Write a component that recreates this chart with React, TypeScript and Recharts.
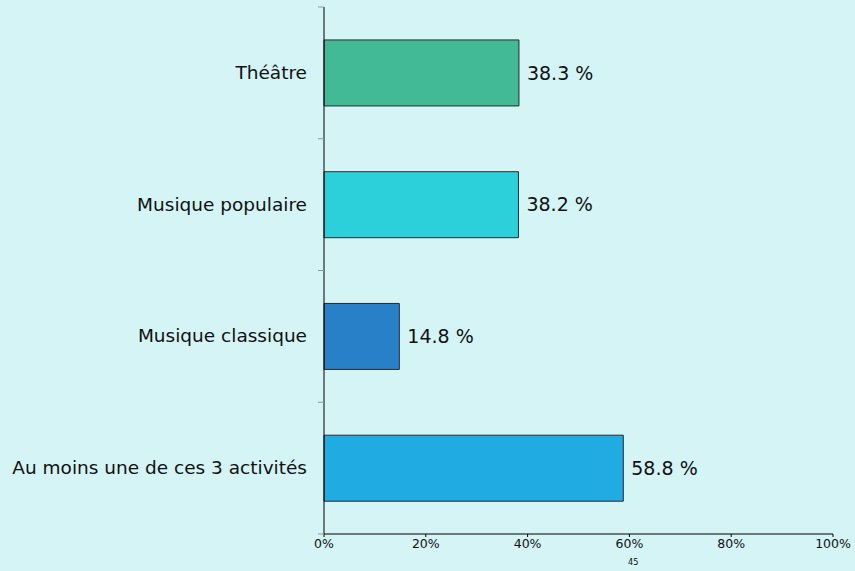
import { BarChart, Bar, XAxis, YAxis, Cell, LabelList } from 'recharts';

const CATEGORIES = ['Théâtre', 'Musique populaire', 'Musique classique', 'Au moins une de ces 3 activités'];
const VALUES = [38.3, 38.2, 14.8, 58.8];
const COLORS = ['#43BA96', '#2BD0DA', '#2881C8', '#20ACE2'];
const X_TICKS = [0, 20, 40, 60, 80, 100];

const data = CATEGORIES.map((name, i) => ({ name, value: VALUES[i], color: COLORS[i] }));

const FONT = '"DejaVu Sans", sans-serif';
const PLOT_TOP = 7;
const PLOT_BOTTOM = 534;
const AXIS_X = 324;

const CategoryTick = (props: any) => {
  const { y, payload, index } = props;
  const band = (PLOT_BOTTOM - PLOT_TOP) / CATEGORIES.length;
  return (
    <g>
      <line x1={AXIS_X - 6} x2={AXIS_X} y1={y - band / 2} y2={y - band / 2} stroke="#8a9a9c" />
      {index === CATEGORIES.length - 1 && (
        <line x1={AXIS_X - 6} x2={AXIS_X} y1={y + band / 2} y2={y + band / 2} stroke="#8a9a9c" />
      )}
      <text x={AXIS_X - 17} y={y} dy={6} textAnchor="end" fill="#111" fontSize={18.5} fontFamily={FONT}>
        {payload.value}
      </text>
    </g>
  );
};

const App = () => {
  return (
    <div style={{ position: 'absolute', left: 0, top: 0, width: 855, height: 571, background: '#D4F4F6' }}>
      <BarChart
        width={855}
        height={571}
        data={data}
        layout="vertical"
        margin={{ top: PLOT_TOP, right: 22, bottom: 7, left: 0 }}
        barCategoryGap="25%"
      >
        <XAxis
          type="number"
          domain={[0, 100]}
          ticks={X_TICKS}
          tickFormatter={(v: number) => `${v}%`}
          axisLine={{ stroke: '#000' }}
          tickLine={{ stroke: '#000' }}
          tickSize={3}
          height={30}
          tick={{ fill: '#111', fontSize: 12.5, fontFamily: FONT }}
        />
        <YAxis
          type="category"
          dataKey="name"
          width={AXIS_X}
          axisLine={{ stroke: '#000' }}
          tickLine={false}
          tick={<CategoryTick />}
          interval={0}
        />
        <Bar dataKey="value" stroke="#2a2a2a" strokeWidth={1} isAnimationActive={false}>
          {data.map((d, i) => (
            <Cell key={`cell-${i}`} fill={d.color} />
          ))}
          <LabelList
            dataKey="value"
            position="right"
            offset={8}
            formatter={(v: any) => `${Number(v).toFixed(1)} %`}
            style={{ fill: '#111', fontSize: 19, fontFamily: FONT }}
          />
        </Bar>
      </BarChart>
      <div
        style={{
          position: 'absolute',
          left: 628,
          top: 557,
          fontSize: 9,
          fontFamily: '"DejaVu Sans Condensed", sans-serif',
          color: '#111',
        }}
      >
        45
      </div>
    </div>
  );
};

export default App;
